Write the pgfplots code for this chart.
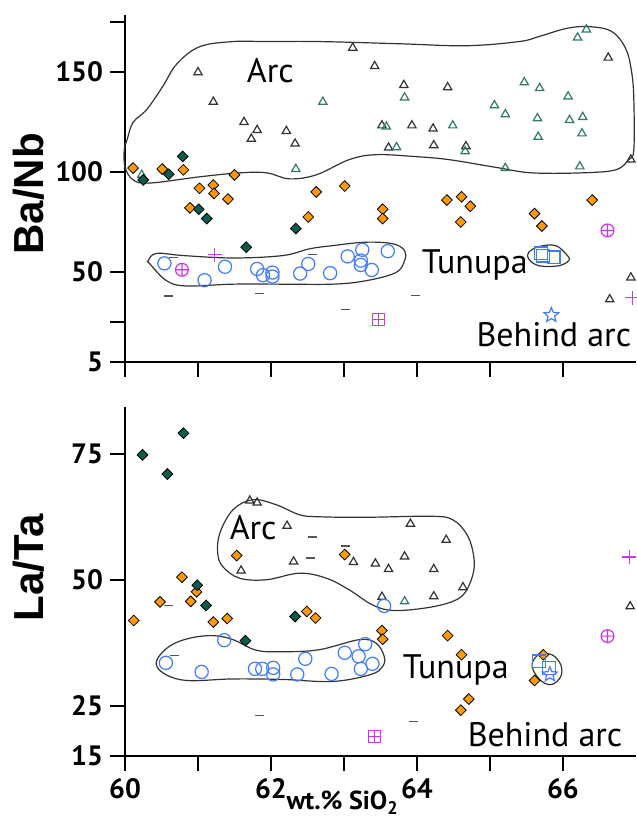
\documentclass[border=0pt]{standalone}
\usepackage{fontspec}
\setmainfont{PT Sans}
\newfontfamily\arialfont{Liberation Sans}
\usepackage{pgfplots}
\pgfplotsset{compat=1.18}

\definecolor{orng}{HTML}{FF9A00}
\definecolor{dkgreen}{HTML}{0B5C4A}
\definecolor{tealtri}{HTML}{2F7A6B}
\definecolor{blk}{HTML}{333333}
\definecolor{blu}{HTML}{3F7BFF}
\definecolor{mag}{HTML}{CC33F0}
\definecolor{dashgray}{HTML}{555555}

\pgfdeclareplotmark{ostar}{%
  \pgfpathmoveto{\pgfqpointpolar{90}{\pgfplotmarksize}}%
  \pgfpathlineto{\pgfqpointpolar{126}{0.45\pgfplotmarksize}}%
  \pgfpathlineto{\pgfqpointpolar{162}{\pgfplotmarksize}}%
  \pgfpathlineto{\pgfqpointpolar{198}{0.45\pgfplotmarksize}}%
  \pgfpathlineto{\pgfqpointpolar{234}{\pgfplotmarksize}}%
  \pgfpathlineto{\pgfqpointpolar{270}{0.45\pgfplotmarksize}}%
  \pgfpathlineto{\pgfqpointpolar{306}{\pgfplotmarksize}}%
  \pgfpathlineto{\pgfqpointpolar{342}{0.45\pgfplotmarksize}}%
  \pgfpathlineto{\pgfqpointpolar{18}{\pgfplotmarksize}}%
  \pgfpathlineto{\pgfqpointpolar{54}{0.45\pgfplotmarksize}}%
  \pgfpathclose\pgfusepathqstroke}
\pgfdeclareplotmark{boxplus}{%
  \pgfpathrectangle{\pgfqpoint{-\pgfplotmarksize}{-\pgfplotmarksize}}{\pgfqpoint{2\pgfplotmarksize}{2\pgfplotmarksize}}%
  \pgfpathmoveto{\pgfqpoint{-\pgfplotmarksize}{0pt}}\pgfpathlineto{\pgfqpoint{\pgfplotmarksize}{0pt}}%
  \pgfpathmoveto{\pgfqpoint{0pt}{-\pgfplotmarksize}}\pgfpathlineto{\pgfqpoint{0pt}{\pgfplotmarksize}}%
  \pgfusepathqstroke}

\tikzset{lbl/.style={anchor=base west, inner sep=0pt, font=\fontsize{17}{17}\selectfont}}

\pgfplotsset{
  panel/.style={scale only axis, width=255.5pt, xmin=60, xmax=67,
    axis lines=left, axis line style={line width=1pt,-,black},
    tick align=outside, major tick length=7.5pt,
    tick style={line width=1pt,black},
    xtick={60,61,...,66}, clip=false,
    tick label style={font=\bfseries\fontsize{14}{14}\selectfont},
    ylabel style={font=\arialfont\bfseries\fontsize{21}{21}\selectfont, anchor=center},
  },
  blktri/.style={only marks, mark=triangle, mark size=2.4pt, draw=blk, mark options={line width=0.6pt}},
  tltri/.style={only marks, mark=triangle, mark size=2.4pt, draw=tealtri, mark options={line width=0.6pt}},
  ordia/.style={only marks, mark=square*, mark size=1.9pt, mark options={rotate=45, fill=orng, draw=none}},
  gndia/.style={only marks, mark=square*, mark size=1.9pt, mark options={rotate=45, fill=dkgreen, draw=none}},
  bcirc/.style={only marks, mark=o, mark size=3.3pt, draw=blu, mark options={line width=0.6pt}},
  bsq/.style={only marks, mark=square, mark size=3.2pt, draw=blu, mark options={line width=0.6pt}},
  bstar/.style={only marks, mark=ostar, mark size=3.8pt, draw=blu, mark options={line width=0.6pt}},
  moplus/.style={only marks, mark=oplus, mark size=3.2pt, draw=mag, mark options={line width=0.6pt}},
  mbox/.style={only marks, mark=boxplus, mark size=2.9pt, draw=mag, mark options={line width=0.6pt}},
  mplus/.style={only marks, mark=+, mark size=3.5pt, draw=mag, mark options={line width=0.6pt}},
  dash/.style={only marks, mark=-, mark size=2.2pt, draw=dashgray, mark options={line width=0.7pt}},
  env/.style={smooth cycle, tension=0.6, no marks, draw=blk, line width=0.6pt},
}

\begin{document}
\begin{tikzpicture}
\path[use as bounding box] (-62.5pt,0pt) rectangle (255.5pt,408.5pt);

% ---------------- Ba/Nb ----------------
\begin{axis}[panel, at={(0pt,227.65pt)}, anchor=south west, height=173.35pt,
  ymin=5, ymax=178.5,
  ytick={5,25,50,100,150,175}, yticklabels={5,,50,100,150,},
  xticklabels={},
  ylabel={Ba/Nb}, ylabel style={at={(axis description cs:0,0.484)}, yshift=48pt},
]
\addplot[env] coordinates {(59.99,111.1) (60.03,116.2) (60.11,124.7) (60.30,131.3) (60.52,142.9) (60.71,154) (61.02,162.6) (61.48,165.2) (61.94,165.2) (62.66,165.2) (63.76,164.1) (64.67,163.1) (65.40,165.2) (65.67,167.7) (66.04,171.7) (66.35,172.7) (66.67,170.2) (66.86,161.6) (66.94,150) (66.97,136.4) (66.97,111) (66.90,106.1) (66.72,101) (66.26,99.5) (65.57,99.5) (65.12,102) (64.44,106.1) (63.99,107.6) (63.44,108.6) (63.07,106.1) (62.62,98.5) (62.25,96.5) (61.94,99.5) (61.57,99.5) (61.02,97.5) (60.34,94.4) (60.11,96) (60.0,102.5)};
\addplot[env] coordinates {(60.32,55.6) (60.43,59.2) (60.80,58.1) (61.48,56.9) (62.16,58.1) (62.53,61.5) (62.85,63.1) (63.30,64.8) (63.67,64) (63.83,60.6) (63.83,55.6) (63.71,49.6) (63.30,45.5) (62.85,43.8) (62.16,43.8) (61.48,43.8) (60.84,42.9) (60.57,45.5) (60.34,54)};
\addplot[env] coordinates {(65.53,59.7) (65.67,62.6) (65.90,63.1) (66.06,58.1) (66.08,55.6) (65.94,53) (65.67,53) (65.53,56.4)};

\addplot[blktri] coordinates {(61.00,149.8) (61.21,135.0) (61.63,124.9) (61.81,120.9) (61.73,116.5) (62.21,120.4) (62.33,114.1) (63.12,162.1) (63.42,152.9) (63.82,143.4) (64.42,142.3) (63.52,123.2) (63.93,123.2) (64.22,121.6) (63.61,112.1) (64.23,113.3) (64.67,112.8) (66.62,157.1) (66.93,106.1) (66.64,36.2) (66.93,47.1)};
\addplot[tltri] coordinates {(60.23,98.5) (62.34,101.4) (62.71,135.0) (63.83,137.2) (63.58,122.6) (64.49,123.2) (63.72,112.3) (64.66,110.3) (65.47,144.8) (65.68,141.9) (65.06,133.3) (65.21,128.8) (65.65,126.8) (65.66,117.5) (66.07,137.7) (66.09,125.9) (66.27,127.4) (66.26,119.2) (65.21,101.9) (66.23,102.7) (66.20,167.2) (66.32,171.2)};
\addplot[ordia] coordinates {(60.11,101.9) (60.51,101.4) (60.80,101.0) (61.50,98.5) (61.02,91.8) (61.21,93.4) (61.22,89.2) (61.41,86.4) (62.62,90.0) (60.89,82.0) (62.51,77.4) (63.01,92.9) (63.53,81.3) (63.53,76.6) (64.41,85.9) (64.61,87.5) (64.73,82.8) (64.60,74.9) (65.61,79.1) (65.71,72.9) (66.40,85.9)};
\addplot[gndia] coordinates {(60.25,96.0) (60.79,107.7) (60.60,98.8) (61.01,81.3) (61.12,76.6) (62.34,71.6) (61.66,62.3)};
\addplot[bcirc] coordinates {(60.54,54.2) (61.09,45.8) (61.37,52.5) (61.81,51.4) (61.89,48.3) (62.02,49.6) (62.02,47.6) (62.40,49.1) (62.51,53.9) (62.81,49.3) (63.05,57.7) (63.25,61.0) (63.23,55.6) (63.23,53.4) (63.38,50.9) (63.60,60.3)};
\addplot[bsq] coordinates {(65.70,59.2) (65.73,58.1) (65.87,57.2)};
\addplot[bstar] coordinates {(65.84,28.3)};
\addplot[moplus] coordinates {(60.78,51.0) (66.61,70.7)};
\addplot[mbox] coordinates {(63.47,26.1)};
\addplot[mplus] coordinates {(61.23,58.6) (66.95,37.0)};
\addplot[dash] coordinates {(60.66,57.2) (60.60,37.9) (61.84,39.0) (62.57,58.6) (63.98,38.2) (63.02,31.2)};

\node[lbl, anchor=base] at (axis cs:61.99,144.9) {Arc};
\node[lbl] at (axis cs:64.06,48.9) {Tunupa};
\node[lbl] at (axis cs:64.81,12.4) {Behind arc};
\end{axis}

% ---------------- La/Ta ----------------
\begin{axis}[panel, at={(0pt,30.5pt)}, anchor=south west, height=174.5pt,
  ymin=15, ymax=84.3,
  ytick={15,25,50,75}, yticklabels={15,25,50,75},
  xticklabels={60,,62,,64,,66},
  ylabel={La/Ta}, ylabel style={at={(axis description cs:0,0.539)}, yshift=48pt},
]
\addplot[env] coordinates {(61.75,65.9) (62.07,64.9) (62.39,62.9) (62.66,62.5) (63.30,62.4) (64.21,62.6) (64.49,61.9) (64.67,59.3) (64.76,56) (64.78,52) (64.67,47.7) (64.49,45.7) (64.12,44.4) (63.67,43.9) (63.39,45) (63.07,48) (62.76,50.3) (62.39,51.3) (61.94,50) (61.57,50.3) (61.34,52.6) (61.27,55.3) (61.30,59.3) (61.48,63.9)};
\addplot[env] coordinates {(60.43,33.8) (60.61,36.8) (60.89,38.4) (61.21,38.9) (61.48,38.1) (61.80,36) (62.16,35.7) (62.66,36.1) (63.21,38.1) (63.44,37.4) (63.55,34.8) (63.53,32.8) (63.37,31.2) (62.85,29.8) (62.16,30.2) (61.48,30.3) (60.84,30) (60.52,31.5)};
\addplot[env] coordinates {(65.58,33.5) (65.67,35.1) (65.85,35.1) (65.97,33.1) (65.97,30.8) (65.85,29.2) (65.71,29.8) (65.60,31.8)};

\addplot[blktri] coordinates {(61.71,65.7) (61.81,65.3) (62.22,60.7) (62.31,53.6) (61.59,51.8) (63.91,61.1) (64.40,57.9) (63.13,53.5) (63.43,53.2) (63.61,52.1) (63.83,54.6) (64.23,52.1) (64.63,48.5) (64.23,46.7) (63.52,46.6) (66.92,44.7)};
\addplot[tltri] coordinates {(63.83,45.7)};
\addplot[ordia] coordinates {(61.53,54.8) (60.78,50.5) (60.98,47.6) (60.48,45.6) (60.90,45.7) (60.12,41.9) (61.21,41.6) (61.40,42.3) (62.49,43.7) (62.61,42.4) (63.01,55.0) (63.52,39.9) (63.53,38.2) (64.42,38.9) (64.61,35.1) (64.71,26.3) (64.60,24.1) (65.73,35.1) (65.61,30.0)};
\addplot[gndia] coordinates {(60.24,74.8) (60.58,71.0) (60.80,79.1) (60.99,48.9) (61.11,44.9) (62.33,42.7) (61.65,37.9)};
\addplot[bcirc] coordinates {(63.55,44.8) (61.36,38.0) (60.56,33.5) (61.05,31.7) (61.78,32.3) (61.88,32.3) (62.03,32.5) (62.03,31.2) (62.36,31.2) (62.47,34.3) (62.83,31.3) (63.01,35.5) (63.20,34.8) (63.29,37.2) (63.23,32.3) (63.39,33.3)};
\addplot[bsq] coordinates {(65.67,33.8) (65.81,32.5)};
\addplot[bstar] coordinates {(65.82,31.2)};
\addplot[moplus] coordinates {(66.61,38.8)};
\addplot[mbox] coordinates {(63.42,18.9)};
\addplot[mplus] coordinates {(66.91,54.5)};
\addplot[dash] coordinates {(62.57,58.5) (62.54,54.3) (60.60,44.9) (60.68,35.0) (61.84,23.0) (63.95,21.9) (63.02,56.7)};

\node[lbl] at (axis cs:61.43,57.9) {Arc};
\node[lbl] at (axis cs:63.80,30.4) {Tunupa};
\node[lbl] at (axis cs:64.69,16.9) {Behind arc};
\node[anchor=base west, inner sep=0pt, yshift=-27pt, font=\bfseries\fontsize{13}{13}\selectfont]
  at (axis cs:62.21,15) {wt.\% SiO\textsubscript{2}};
\end{axis}
\end{tikzpicture}
\end{document}
